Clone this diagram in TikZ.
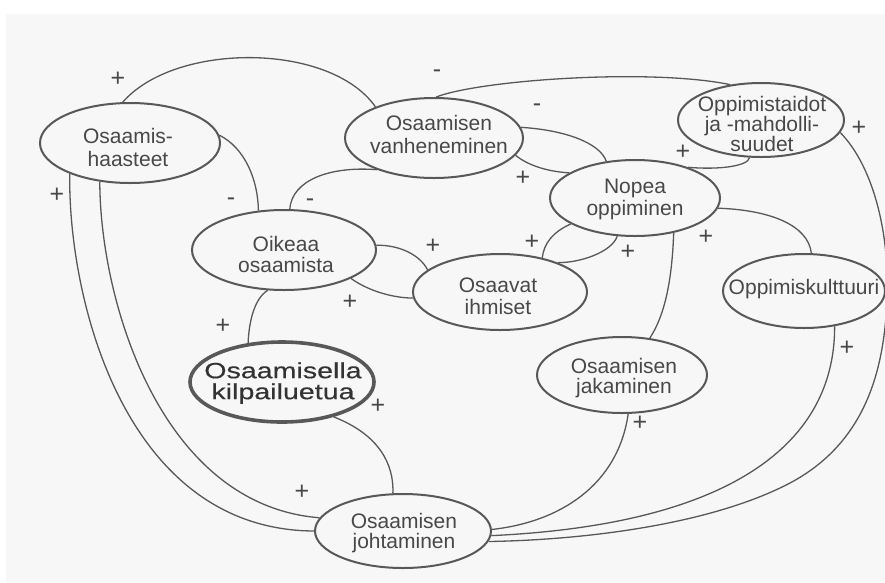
\documentclass[tikz,border=0pt]{standalone}
\usepackage{fontspec}
\setmainfont{Liberation Sans}
\newfontfamily\widefont[FakeStretch=1.3,FakeBold=0.4]{Liberation Sans}
\usetikzlibrary{shapes.geometric}
\definecolor{ln}{RGB}{88,88,88}
\definecolor{tx}{RGB}{72,72,72}
\begin{document}
\begin{tikzpicture}[x=1pt,y=-1pt,
  bub/.style={ellipse, draw=ln, line width=2pt, inner sep=0pt},
  txt/.style={align=center, text=tx, inner sep=0pt, font=\fontsize{21}{22}\selectfont},
  conn/.style={draw=ln, line width=1.3pt},
  sgn/.style={text=tx, inner sep=0pt, font=\fontsize{25}{25}\selectfont}]
\useasboundingbox (0,0) rectangle (885,582);
\clip (0,0) rectangle (885,582);
\fill[black!3] (6,14) rectangle (885,582);

% ellipses
\node[bub, minimum width=180, minimum height=80] (haas) at (130,143) {};
\node[bub, minimum width=178, minimum height=80] (vanh) at (434,138) {};
\node[bub, minimum width=166, minimum height=74] (opta) at (761,120) {};
\node[bub, minimum width=170, minimum height=76] (nopea) at (635,198) {};
\node[bub, minimum width=184, minimum height=80] (oikea) at (284,250) {};
\node[bub, minimum width=174, minimum height=76] (osaav) at (500,292) {};
\node[bub, minimum width=162, minimum height=74] (kult) at (804,291) {};
\node[bub, line width=3.6pt, minimum width=184, minimum height=80] (kilp) at (282,382) {};
\node[bub, minimum width=170, minimum height=76] (jaka) at (622,375) {};
\node[bub, minimum width=176, minimum height=74] (joht) at (403,531) {};

% texts
\node[txt, font=\fontsize{21}{23}\selectfont] (haasT) at (128,147) {Osaamis-\\haasteet};
\node[txt, font=\fontsize{21}{23}\selectfont] (vanhT) at (439,134) {Osaamisen\\vanheneminen};
\node[txt, font=\fontsize{21}{20}\selectfont] (optaT) at (762,124) {Oppimistaidot\\ja -mahdolli-\\suudet};
\node[txt] (nopeaT) at (635,199) {Nopea\\oppiminen};
\node[txt, font=\fontsize{21}{21}\selectfont] (oikeaT) at (286,254) {Oikeaa\\osaamista};
\node[txt] (osaavT) at (498,296) {Osaavat\\ihmiset};
\node[txt] (kultT) at (804,289) {Oppimiskulttuuri};
\node[txt, text=black!80, font=\widefont\fontsize{22}{21}\selectfont] (kilpT) at (283,383) {Osaamisella\\kilpailuetua};
\node[txt, font=\fontsize{21}{20}\selectfont] (jakaT) at (624,378) {Osaamisen\\jakaminen};
\node[txt, font=\fontsize{21}{20}\selectfont] (johtT) at (404,533) {Osaamisen\\johtaminen};

% connectors
\draw[conn] (haas.100) .. controls (175,42) and (330,42) .. (vanh.152);
\draw[conn] (vanh.87) .. controls (480,80) and (650,68) .. (opta.131);
\draw[conn] (haas.5) .. controls (245,148) and (258,180) .. (oikea.123);
\draw[conn] (oikea.82) .. controls (292,180) and (330,166) .. (vanh.209);
\draw[conn] (vanh.7) .. controls (565,130) and (600,143) .. (nopea.128);
\draw[conn] (vanh.-12) .. controls (530,167) and (552,172) .. (nopea.159);
\draw[conn] (nopea.30) .. controls (720,170) and (748,166) .. (opta.-107);
\draw[conn] (opta.-9) .. controls (872,165) and (890,230) .. (887,300)
  .. controls (884,370) and (866,448) .. (780,488)
  .. controls (700,526) and (580,540) .. (joht.-7);
\draw[conn] (nopea.-7) .. controls (770,210) and (808,225) .. (kult.79);
\draw[conn] (nopea.202) .. controls (553,232) and (544,243) .. (osaav.39);
\draw[conn] (nopea.245) .. controls (612,252) and (580,263) .. (osaav.27);
\draw[conn] (nopea.-42) .. controls (672,280) and (665,315) .. (jaka.53);
\draw[conn] (oikea.3) .. controls (400,245) and (420,255) .. (osaav.163);
\draw[conn] (oikea.-23) .. controls (370,292) and (395,298) .. (osaav.184);
\draw[conn] (oikea.-112) .. controls (255,298) and (249,320) .. (kilp.131);
\draw[conn] (kilp.-34) .. controls (380,435) and (394,465) .. (joht.105);
\draw[conn] (haas.207) .. controls (68,300) and (125,530) .. (joht.180);
\draw[conn] (haas.232) .. controls (100,300) and (160,505) .. (joht.171);
\draw[conn] (kult.-49) .. controls (835,450) and (720,525) .. (joht.-3);
\draw[conn] (jaka.-81) .. controls (618,485) and (560,522) .. (joht.1);

% signs
\node[sgn] (s1) at (118,79) {+};
\node[sgn] (s2) at (437,74) {-};
\node[sgn] (s3) at (57,195) {+};
\node[sgn] (s4) at (231,202) {-};
\node[sgn] (s5) at (310,203) {-};
\node[sgn] (s6) at (537,108) {-};
\node[sgn] (s7) at (523,178) {+};
\node[sgn] (s8) at (683,152) {+};
\node[sgn] (s9) at (859,128) {+};
\node[sgn] (s10) at (433,246) {+};
\node[sgn] (s11) at (532,242) {+};
\node[sgn] (s12) at (628,252) {+};
\node[sgn] (s13) at (706,237) {+};
\node[sgn] (s14) at (350,302) {+};
\node[sgn] (s15) at (223,326) {+};
\node[sgn] (s16) at (378,406) {+};
\node[sgn] (s17) at (302,492) {+};
\node[sgn] (s18) at (640,423) {+};
\node[sgn] (s19) at (847,348) {+};
\end{tikzpicture}
\end{document}
